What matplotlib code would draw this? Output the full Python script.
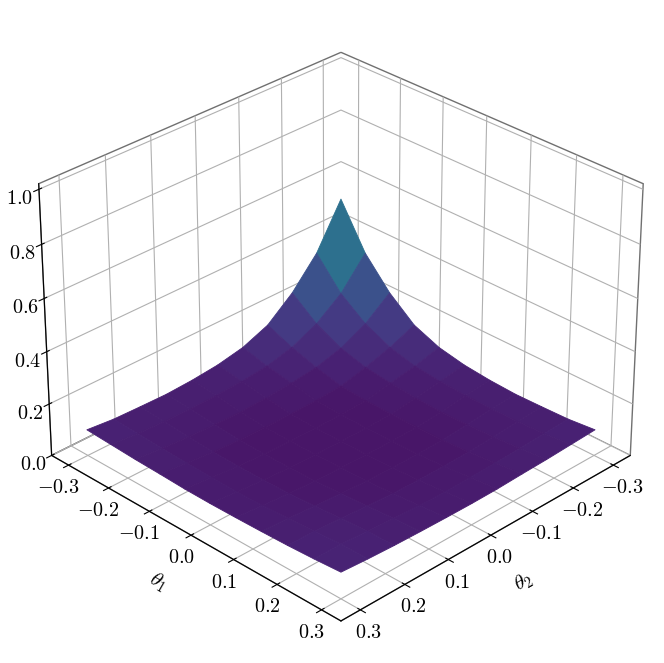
import numpy as np
import matplotlib
matplotlib.use("Agg")
import matplotlib.pyplot as plt
from matplotlib.ticker import FixedFormatter, FixedLocator, NullFormatter
from mpl_toolkits.mplot3d import proj3d

plt.rcParams['mathtext.fontset'] = 'cm'
plt.rcParams['font.family'] = 'serif'

theta = [-0.30, -0.24, -0.18, -0.12, -0.06, 0.0, 0.06, 0.12, 0.18, 0.24, 0.30]
z_vals = [
    [.517, .35, .24, .16, .12, .10, .09, .085, .087, .09, .10],
    [.35, .237, .165, .12, .095, .085, .08, .078, .08, .085, .095],
    [.24, .165, .117, .09, .078, .07, .066, .068, .072, .08, .09],
    [.16, .12, .09, .066, .06, .058, .058, .06, .066, .076, .087],
    [.12, .095, .078, .06, .056, .055, .056, .058, .064, .074, .083],
    [.10, .085, .07, .058, .055, .055, .056, .058, .064, .072, .082],
    [.09, .08, .066, .058, .056, .056, .058, .06, .066, .074, .083],
    [.085, .078, .068, .06, .058, .058, .06, .066, .072, .08, .085],
    [.087, .08, .072, .066, .064, .064, .066, .072, .08, .086, .088],
    [.09, .085, .08, .076, .074, .072, .074, .08, .086, .093, .093],
    [.10, .095, .09, .087, .083, .082, .083, .085, .088, .093, .10],
]
xy_ticks = [-0.3, -0.2, -0.1, 0.0, 0.1, 0.2, 0.3]
xy_labels = ['$-0.3$', '$-0.2$', '$-0.1$', '$0.0$', '$0.1$', '$0.2$', '$0.3$']
z_ticks = [0.0, 0.2, 0.4, 0.6, 0.8, 1.0]
z_labels = ['$0.0$', '$0.2$', '$0.4$', '$0.6$', '$0.8$', '$1.0$']
xy_lim = 0.343

fig = plt.figure(figsize=(6.64, 6.63), dpi=100)
ax = fig.add_axes([0, 0, 1, 1], projection='3d')

T2, T1 = np.meshgrid(theta, theta)
surf = ax.plot_surface(T2, T1, np.array(z_vals), cmap='viridis', vmin=0, vmax=1,
                       rstride=1, cstride=1, linewidth=0.6)
surf.set_edgecolor('face')

ax.view_init(elev=30, azim=45)
ax.set_xlim(-xy_lim, xy_lim)
ax.set_ylim(-xy_lim, xy_lim)
ax.set_zlim(0, 1.02)
ax.set_box_aspect(None, zoom=0.98)

for axis in [ax.xaxis, ax.yaxis]:
    axis.set_major_locator(FixedLocator(xy_ticks))
    axis.set_major_formatter(NullFormatter())
ax.zaxis.set_major_locator(FixedLocator(z_ticks))
ax.zaxis.set_major_formatter(FixedFormatter(z_labels))
for axis in [ax.xaxis, ax.yaxis, ax.zaxis]:
    axis.set_pane_color((1, 1, 1, 1))
    axis.pane.set_edgecolor('#707070')
ax.tick_params(labelsize=14.5)
ax.zaxis.set_tick_params(pad=0)
ax.set_xlabel(r'$\theta_2$', fontsize=15, labelpad=6)
ax.set_ylabel(r'$\theta_1$', fontsize=15, labelpad=6)

# tick labels of the floor axes, kept at a constant offset from their tick
M = ax.get_proj()
for t, lab in zip(xy_ticks, xy_labels):
    px, py, _ = proj3d.proj_transform(xy_lim, t, 0, M)
    ax.annotate(lab, (px, py), xytext=(-10, -22.5), textcoords='offset pixels',
                ha='center', va='center', fontsize=14.5, annotation_clip=False)
    px, py, _ = proj3d.proj_transform(t, xy_lim, 0, M)
    ax.annotate(lab, (px, py), xytext=(8.5, -22.5), textcoords='offset pixels',
                ha='center', va='center', fontsize=14.5, annotation_clip=False)

plt.savefig('out.png', dpi=100)
